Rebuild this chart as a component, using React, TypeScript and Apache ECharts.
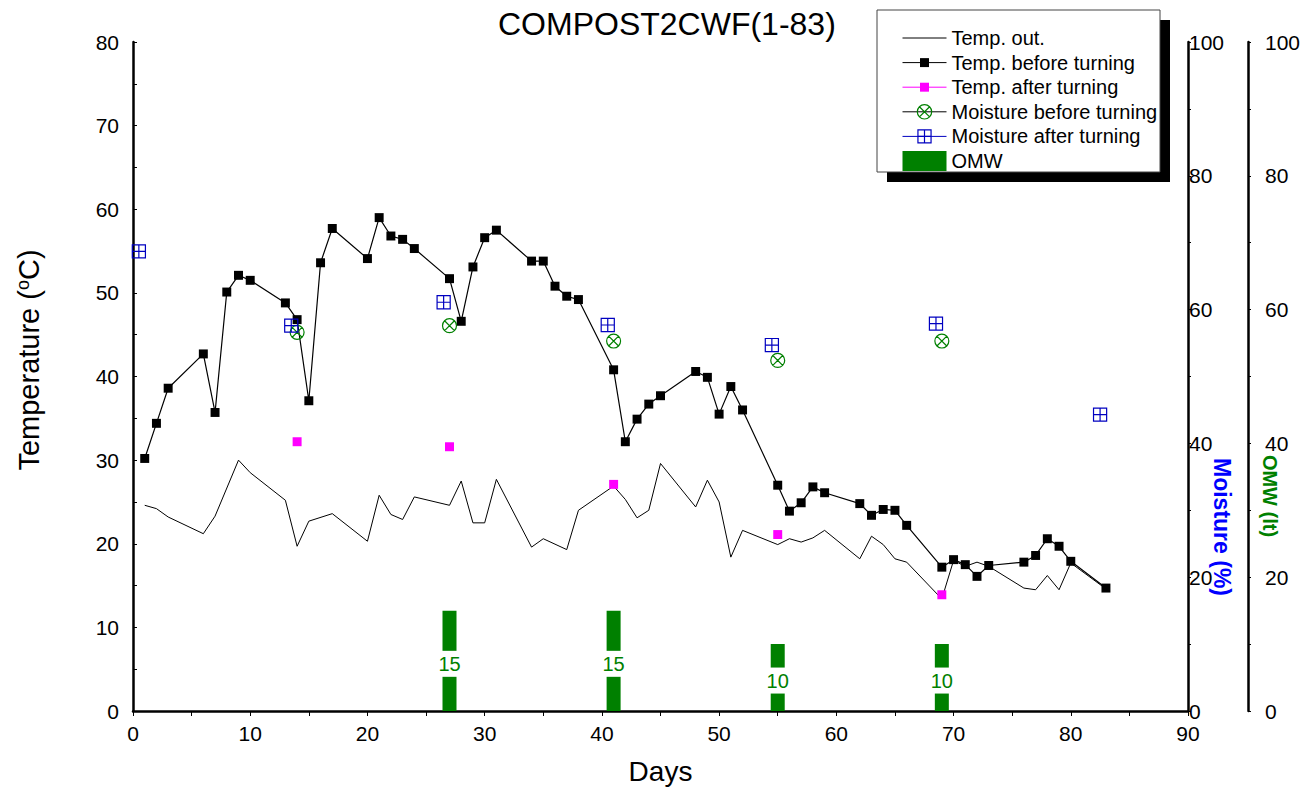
import React, { useEffect, useRef } from 'react';
import * as echarts from 'echarts';

// ---- data ----
const tempOutDays = [1, 2, 3, 6, 7, 9, 10, 13, 14, 15, 17, 20, 21, 22, 23, 24, 27, 28, 29, 30, 31, 34, 35, 37, 38, 41, 42, 43, 44, 45, 48, 49, 50, 51, 52, 55, 56, 57, 58, 59, 62, 63, 64, 65, 66, 69, 70, 71, 72, 73, 76, 77, 78, 79, 80, 83];
const tempOutValues = [24.6, 24.2, 23.2, 21.2, 23.3, 30.0, 28.5, 25.2, 19.7, 22.7, 23.6, 20.3, 25.8, 23.5, 22.9, 25.6, 24.6, 27.5, 22.5, 22.5, 27.7, 19.6, 20.6, 19.3, 24.0, 26.9, 25.3, 23.1, 24.0, 29.6, 24.4, 27.6, 25.0, 18.4, 21.6, 19.9, 20.6, 20.2, 20.7, 21.6, 18.2, 20.9, 19.9, 18.2, 17.8, 13.4, 18.0, 17.3, 17.8, 17.3, 14.7, 14.5, 16.2, 14.5, 17.7, 14.6];

const tempBeforeDays = [1, 2, 3, 6, 7, 8, 9, 10, 13, 14, 15, 16, 17, 20, 21, 22, 23, 24, 27, 28, 29, 30, 31, 34, 35, 36, 37, 38, 41, 42, 43, 44, 45, 48, 49, 50, 51, 52, 55, 56, 57, 58, 59, 62, 63, 64, 65, 66, 69, 70, 71, 72, 73, 76, 77, 78, 79, 80, 83];
const tempBeforeValues = [30.2, 34.4, 38.6, 42.7, 35.7, 50.1, 52.1, 51.5, 48.8, 46.8, 37.1, 53.6, 57.7, 54.1, 59.0, 56.8, 56.4, 55.3, 51.7, 46.6, 53.1, 56.6, 57.5, 53.8, 53.8, 50.8, 49.6, 49.2, 40.8, 32.2, 34.9, 36.7, 37.7, 40.6, 39.9, 35.5, 38.8, 36.0, 27.0, 23.9, 24.9, 26.8, 26.1, 24.8, 23.4, 24.1, 24.0, 22.2, 17.2, 18.1, 17.5, 16.1, 17.4, 17.8, 18.6, 20.6, 19.7, 17.9, 14.7];

const tempAfterDays = [14, 27, 41, 55, 69];
const tempAfterValues = [32.2, 31.6, 27.1, 21.1, 13.9];

const moistBeforeDays = [14, 27, 41, 55, 69];
const moistBeforeValues = [56.6, 57.6, 55.3, 52.4, 55.3];

const moistAfterDays = [0.5, 13.5, 26.5, 40.5, 54.5, 68.5, 82.5];
const moistAfterValues = [68.7, 57.6, 61.1, 57.7, 54.7, 57.9, 44.3];

const omwDays = [27, 41, 55, 69];
const omwValues = [15, 15, 10, 10];

const pairs = (d: number[], v: number[]) => d.map((x, i) => [x, v[i]]);

const FONT = '"Liberation Sans", Arial, Helvetica, sans-serif';

// symbols (outer move-to points pad the bounding box so legend and chart sizes match)
const SQ = 'path://M-1 -1 M1 1 M-0.56 -0.56 L0.56 -0.56 L0.56 0.56 L-0.56 0.56 Z';
const CX = 'path://M-1 -1 M1 1 M0 -0.9 A0.9 0.9 0 1 1 0 0.9 A0.9 0.9 0 1 1 0 -0.9 Z M-0.636 -0.636 L0.636 0.636 M0.636 -0.636 L-0.636 0.636';
const SP = 'path://M-1 -1 M1 1 M-0.82 -0.82 L0.82 -0.82 L0.82 0.82 L-0.82 0.82 Z M0 -0.82 L0 0.82 M-0.82 0 L0.82 0';

export default function App() {
  const ref = useRef<HTMLDivElement>(null);
  useEffect(() => {
    if (!ref.current) return;
    const chart = echarts.init(ref.current, null, { renderer: 'svg' });
    const axisLabel = { fontSize: 21, color: '#000', fontFamily: FONT };
    const option: any = {
      animation: false,
      backgroundColor: '#fff',
      title: {
        text: 'COMPOST2CWF(1-83)',
        left: 498,
        top: 8,
        padding: 0,
        textStyle: { fontSize: 32, fontWeight: 'normal', color: '#000', fontFamily: FONT },
      },
      grid: { left: 133, right: 121, top: 42, bottom: 78, containLabel: false },
      xAxis: {
        type: 'value',
        min: 0,
        max: 90,
        interval: 10,
        name: 'Days',
        nameLocation: 'middle',
        nameGap: 46,
        nameTextStyle: { fontSize: 28, color: '#000', fontFamily: FONT },
        axisLine: { show: true, onZero: false, lineStyle: { color: '#000', width: 2.5 } },
        axisTick: { show: true, length: 5, lineStyle: { color: '#000', width: 1 } },
        minorTick: { show: true, splitNumber: 2, length: 5, lineStyle: { color: '#000', width: 1 } },
        splitLine: { show: false },
        axisLabel: { ...axisLabel, margin: 12 },
      },
      yAxis: [
        {
          type: 'value',
          min: 0,
          max: 80,
          interval: 10,
          position: 'left',
          axisLine: { show: true, onZero: false, lineStyle: { color: '#000', width: 2.5 } },
          axisTick: { show: true, inside: true, length: 4, lineStyle: { color: '#000' } },
          minorTick: { show: true, splitNumber: 2, length: 4, lineStyle: { color: '#000' } },
          splitLine: { show: false },
          axisLabel: { ...axisLabel, margin: 14 },
        },
        {
          type: 'value',
          min: 0,
          max: 100,
          interval: 20,
          position: 'right',
          axisLine: { show: true, onZero: false, lineStyle: { color: '#000', width: 2.5 } },
          axisTick: { show: true, length: 3, lineStyle: { color: '#000' } },
          minorTick: { show: true, splitNumber: 2, length: 3, lineStyle: { color: '#000' } },
          splitLine: { show: false },
          axisLabel: { ...axisLabel, margin: 1 },
        },
        {
          type: 'value',
          min: 0,
          max: 100,
          interval: 20,
          position: 'right',
          offset: 60,
          axisLine: { show: true, onZero: false, lineStyle: { color: '#000', width: 2.5 } },
          axisTick: { show: true, length: 3, lineStyle: { color: '#000' } },
          minorTick: { show: true, splitNumber: 2, length: 3, lineStyle: { color: '#000' } },
          splitLine: { show: false },
          axisLabel: { ...axisLabel, margin: 17 },
        },
      ],
      legend: {
        orient: 'vertical',
        left: 902,
        top: 28,
        padding: 0,
        itemWidth: 44,
        itemHeight: 20,
        itemGap: 4.6,
        selectedMode: false,
        textStyle: { fontSize: 20, color: '#000', fontFamily: FONT, lineHeight: 20 },
        lineStyle: { width: 1 },
        itemStyle: { borderWidth: 1.2 },
        data: [
          { name: 'Temp. out.', itemStyle: { opacity: 0 } },
          { name: 'Temp. before turning' },
          { name: 'Temp. after turning', lineStyle: { opacity: 1 } },
          { name: 'Moisture before turning', lineStyle: { opacity: 1 } },
          { name: 'Moisture after turning', lineStyle: { opacity: 1 } },
          { name: 'OMW', icon: 'rect', itemStyle: { borderWidth: 0 } },
        ],
      },
      graphic: [
        { type: 'rect', z: 3, shape: { x: 887, y: 20, width: 283, height: 162 }, style: { fill: '#000' } },
        { type: 'rect', z: 3, shape: { x: 877, y: 10, width: 283, height: 162 }, style: { fill: '#fff', stroke: '#444', lineWidth: 1 } },
        {
          type: 'text', z: 5, x: 29, y: 360, rotation: Math.PI / 2,
          style: {
            text: 'Temperature ({sup|o}C)',
            fill: '#000', fontSize: 29, fontFamily: FONT, align: 'center', verticalAlign: 'middle',
            rich: { sup: { fontSize: 18, fill: '#000', fontFamily: FONT, padding: [0, 0, 12, 0] } },
          },
        },
        {
          type: 'text', z: 5, x: 1222, y: 527, rotation: -Math.PI / 2,
          style: { text: 'Moisture (%)', fill: '#0000ff', fontSize: 23, fontWeight: 'bold', fontFamily: FONT, align: 'center', verticalAlign: 'middle' },
        },
        {
          type: 'text', z: 5, x: 1270, y: 496, rotation: -Math.PI / 2,
          style: { text: 'OMW (lt)', fill: '#008000', fontSize: 20, fontWeight: 'bold', fontFamily: FONT, align: 'center', verticalAlign: 'middle' },
        },
      ],
      series: [
        {
          name: 'OMW',
          type: 'bar',
          yAxisIndex: 2,
          data: pairs(omwDays, omwValues),
          barWidth: 14,
          itemStyle: { color: '#008000' },
          label: {
            show: true,
            position: 'inside',
            offset: [0, 3],
            color: '#008000',
            fontSize: 20,
            fontFamily: FONT,
            backgroundColor: '#fff',
            padding: [3, 0],
          },
          z: 1,
        },
        {
          name: 'Temp. out.',
          type: 'line',
          data: pairs(tempOutDays, tempOutValues),
          symbol: 'none',
          itemStyle: { color: '#000' },
          lineStyle: { color: '#000', width: 1 },
          z: 2,
        },
        {
          name: 'Temp. before turning',
          type: 'line',
          data: pairs(tempBeforeDays, tempBeforeValues),
          symbol: SQ,
          symbolSize: 16,
          itemStyle: { color: '#000' },
          lineStyle: { color: '#000', width: 1.2 },
          z: 3,
        },
        {
          name: 'Temp. after turning',
          type: 'line',
          data: pairs(tempAfterDays, tempAfterValues),
          symbol: SQ,
          symbolSize: 16,
          itemStyle: { color: '#ff00ff' },
          lineStyle: { color: '#ff00ff', width: 1, opacity: 0 },
          z: 3,
        },
        {
          name: 'Moisture before turning',
          type: 'line',
          yAxisIndex: 1,
          data: pairs(moistBeforeDays, moistBeforeValues),
          symbol: CX,
          symbolSize: 15.5,
          itemStyle: { color: 'rgba(0,0,0,0)', borderColor: '#008000', borderWidth: 1.2 },
          lineStyle: { color: '#000', width: 1, opacity: 0 },
          z: 3,
        },
        {
          name: 'Moisture after turning',
          type: 'line',
          yAxisIndex: 1,
          data: pairs(moistAfterDays, moistAfterValues),
          symbol: SP,
          symbolSize: 16,
          itemStyle: { color: 'rgba(0,0,0,0)', borderColor: '#0000c0', borderWidth: 1.2 },
          lineStyle: { color: '#0000c0', width: 1, opacity: 0 },
          z: 3,
        },
      ],
    };
    chart.setOption(option);
    return () => chart.dispose();
  }, []);
  return (
    <div
      ref={ref}
      style={{ position: 'fixed', left: 0, top: 0, width: 1309, height: 790, background: '#fff' }}
    />
  );
}
